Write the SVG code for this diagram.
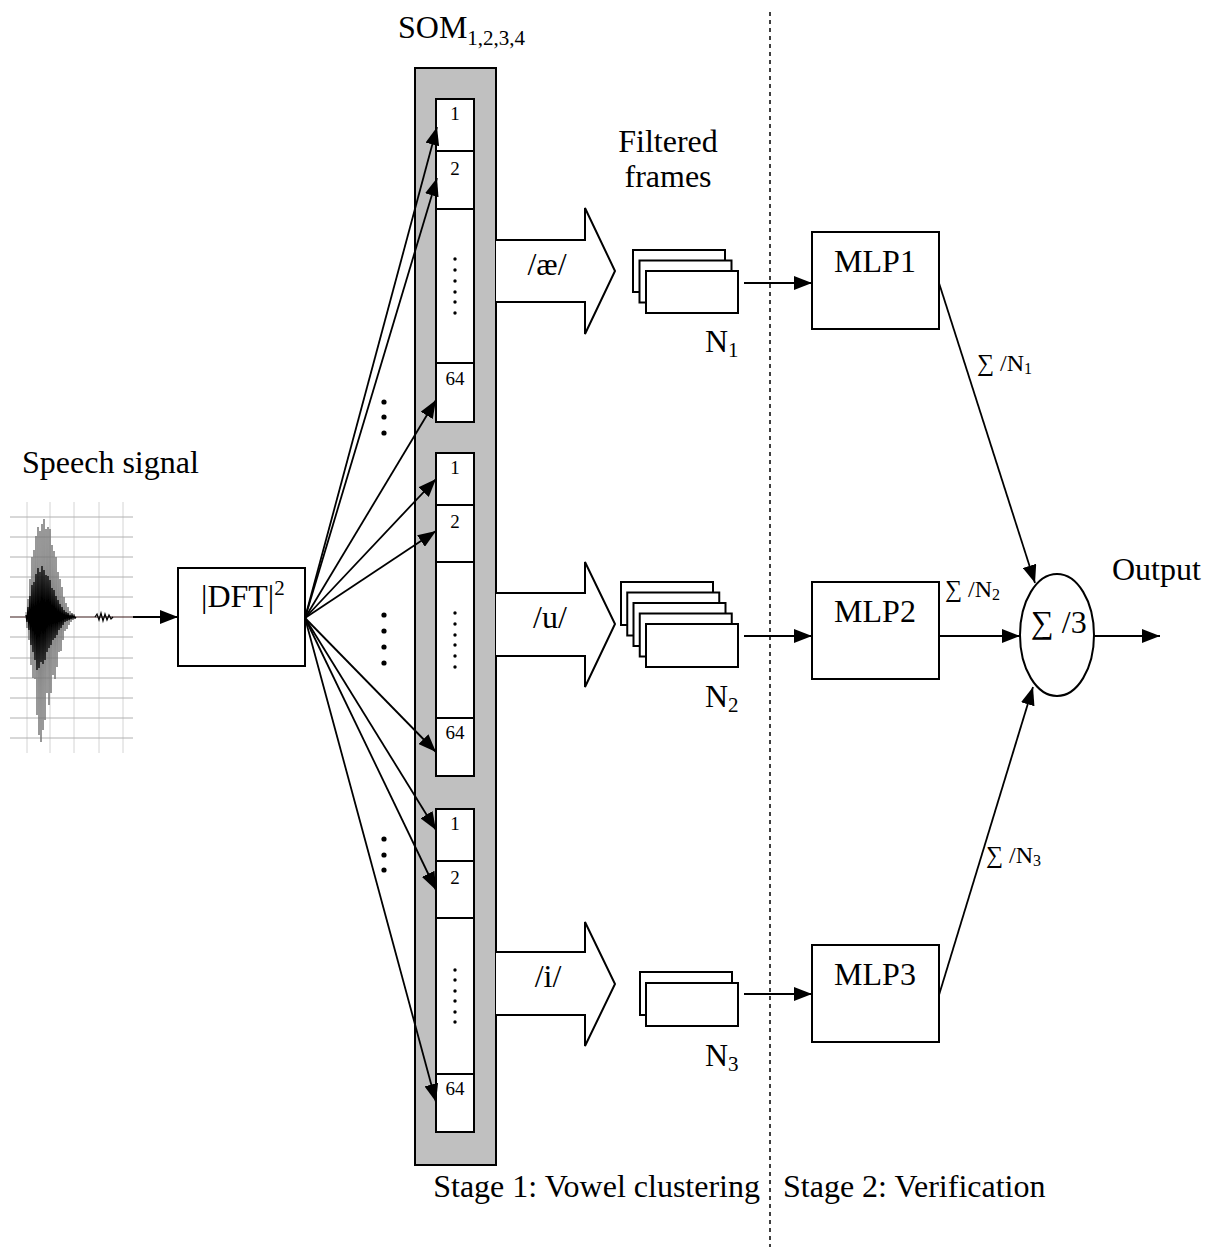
<svg xmlns="http://www.w3.org/2000/svg" width="1217" height="1247" viewBox="0 0 1217 1247">
<style>
text{font-family:"Liberation Serif","Times New Roman",serif;fill:#000}
.t{font-size:32px}
.s{font-size:24px}
.box{fill:#fff;stroke:#000;stroke-width:2}
.ln{stroke:#000;stroke-width:1.8;fill:none}
.grid{stroke:#b0b0b0;stroke-width:1}
.dot{fill:#000}
</style>
<defs>
<marker id="ah" markerUnits="userSpaceOnUse" markerWidth="19" markerHeight="14" refX="18" refY="7" orient="auto">
<path d="M0,0 L18,7 L0,14 Z" fill="#000"/>
</marker>
</defs>
<rect width="1217" height="1247" fill="#fff"/>

<g id="speech-signal">
<text class="t" x="22" y="473">Speech signal</text>
<g class="grid">
<line x1="27" y1="502" x2="27" y2="753" stroke="#d4d4d4"/>
<line x1="50" y1="502" x2="50" y2="753" stroke="#d4d4d4"/>
<line x1="74" y1="502" x2="74" y2="753" stroke="#d4d4d4"/>
<line x1="99" y1="502" x2="99" y2="753" stroke="#d4d4d4"/>
<line x1="123" y1="502" x2="123" y2="753" stroke="#d4d4d4"/>
<line x1="10" y1="517" x2="133" y2="517"/><line x1="10" y1="537" x2="133" y2="537"/>
<line x1="10" y1="557" x2="133" y2="557"/><line x1="10" y1="577" x2="133" y2="577"/>
<line x1="10" y1="597" x2="133" y2="597"/><line x1="10" y1="637" x2="133" y2="637"/>
<line x1="10" y1="658" x2="133" y2="658"/><line x1="10" y1="678" x2="133" y2="678"/>
<line x1="10" y1="698" x2="133" y2="698"/><line x1="10" y1="718" x2="133" y2="718"/>
<line x1="10" y1="738" x2="133" y2="738"/>
</g>
<line x1="10" y1="617" x2="133" y2="617" stroke="#3a1a1a" stroke-width="1.2"/>
<polyline fill="none" stroke="#777" stroke-width="1" points="26,612 27,628 28,599 29,640 30,579 31,665 32,557 33,678 34,550 35,679 36,536 37,715 38,527 39,735 40,531 41,742 42,524 43,730 44,519 45,720 46,529 47,693 48,527 49,705 50,529 51,693 52,545 53,675 54,551 55,679 56,557 57,667 58,572 59,652 60,579 61,651 62,587 63,640 64,597 65,631 66,603 67,629 68,607 69,625 70,611 71,622 72,613 73,620 74,614 75,619 76,617"/>
<polyline fill="none" stroke="#000" stroke-width="1.3" points="26,615 27,622 28,607 29,630 30,596 31,645 32,585 33,652 34,582 35,660 36,574 37,670 38,568 39,668 40,572 41,662 42,566 43,664 44,570 45,660 46,575 47,652 48,576 49,648 50,580 51,645 52,588 53,640 54,590 55,638 56,596 57,635 58,600 59,630 60,604 61,628 62,607 63,625 64,610 65,622 66,612 67,621 68,613 69,620 70,615 71,619 72,615 73,618 74,616 75,618 76,617"/>
<polyline fill="none" stroke="#000" stroke-width="1.2" points="95,617 97,614 99,620 101,613 103,621 105,614 107,620 109,615 111,619 113,617"/>
</g>

<g id="dft">
<rect class="box" x="178" y="568" width="127" height="98"/>
<text class="t" x="201" y="607">|DFT|<tspan font-size="21" dy="-12">2</tspan></text>
</g>

<g id="som">
<text class="t" x="398" y="38">SOM<tspan font-size="21" dy="7">1,2,3,4</tspan></text>
<rect x="415" y="68" width="81" height="1097" fill="#c0c0c0" stroke="#000" stroke-width="2"/>
<g id="som-group1">
<rect class="box" x="436" y="99" width="38" height="52"/>
<rect class="box" x="436" y="151" width="38" height="58"/>
<rect class="box" x="436" y="209" width="38" height="154"/>
<rect class="box" x="436" y="363" width="38" height="59"/>
<text x="455" y="120" font-size="19" text-anchor="middle">1</text>
<text x="455" y="175" font-size="19" text-anchor="middle">2</text>
<text x="455" y="385" font-size="19" text-anchor="middle">64</text>
<g class="dot"><circle cx="455" cy="259" r="1.7"/><circle cx="455" cy="270" r="1.7"/><circle cx="455" cy="281" r="1.7"/><circle cx="455" cy="292" r="1.7"/><circle cx="455" cy="302" r="1.7"/><circle cx="455" cy="313" r="1.7"/></g>
</g>
<g id="som-group2">
<rect class="box" x="436" y="453" width="38" height="52"/>
<rect class="box" x="436" y="505" width="38" height="57"/>
<rect class="box" x="436" y="562" width="38" height="156"/>
<rect class="box" x="436" y="718" width="38" height="58"/>
<text x="455" y="474" font-size="19" text-anchor="middle">1</text>
<text x="455" y="528" font-size="19" text-anchor="middle">2</text>
<text x="455" y="739" font-size="19" text-anchor="middle">64</text>
<g class="dot"><circle cx="455" cy="613" r="1.7"/><circle cx="455" cy="624" r="1.7"/><circle cx="455" cy="635" r="1.7"/><circle cx="455" cy="645" r="1.7"/><circle cx="455" cy="656" r="1.7"/><circle cx="455" cy="667" r="1.7"/></g>
</g>
<g id="som-group3">
<rect class="box" x="436" y="809" width="38" height="52"/>
<rect class="box" x="436" y="861" width="38" height="57"/>
<rect class="box" x="436" y="918" width="38" height="156"/>
<rect class="box" x="436" y="1074" width="38" height="58"/>
<text x="455" y="830" font-size="19" text-anchor="middle">1</text>
<text x="455" y="884" font-size="19" text-anchor="middle">2</text>
<text x="455" y="1095" font-size="19" text-anchor="middle">64</text>
<g class="dot"><circle cx="455" cy="970" r="1.7"/><circle cx="455" cy="980" r="1.7"/><circle cx="455" cy="991" r="1.7"/><circle cx="455" cy="1001" r="1.7"/><circle cx="455" cy="1012" r="1.7"/><circle cx="455" cy="1022" r="1.7"/></g>
</g>
</g>

<g id="fan-dots" class="dot">
<circle cx="384" cy="402" r="2.6"/><circle cx="384" cy="417" r="2.6"/><circle cx="384" cy="433" r="2.6"/>
<circle cx="384" cy="615" r="2.6"/><circle cx="384" cy="631" r="2.6"/><circle cx="384" cy="647" r="2.6"/><circle cx="384" cy="663" r="2.6"/>
<circle cx="384" cy="839" r="2.6"/><circle cx="384" cy="855" r="2.6"/><circle cx="384" cy="870" r="2.6"/>
</g>

<g id="vowel-ae">
<polyline points="496,240 585,240 585,208 615,271 585,334 585,302 496,302" fill="#fff" stroke="#000" stroke-width="2"/>
<text class="t" x="547" y="275" text-anchor="middle">/æ/</text>
</g>
<g id="vowel-u">
<polyline points="496,593 585,593 585,562 615,624 585,687 585,656 496,656" fill="#fff" stroke="#000" stroke-width="2"/>
<text class="t" x="550" y="628" text-anchor="middle">/u/</text>
</g>
<g id="vowel-i">
<polyline points="496,952 585,952 585,922 615,984 585,1046 585,1015 496,1015" fill="#fff" stroke="#000" stroke-width="2"/>
<text class="t" x="548" y="987" text-anchor="middle">/i/</text>
</g>

<g id="filtered-label">
<text class="t" x="668" y="152" text-anchor="middle">Filtered</text>
<text class="t" x="668" y="187" text-anchor="middle">frames</text>
</g>

<g id="frames1">
<rect class="box" x="633" y="250" width="92" height="42"/>
<rect class="box" x="639.5" y="260.5" width="92" height="42"/>
<rect class="box" x="646" y="271" width="92" height="42"/>
<text class="t" x="705" y="352">N<tspan font-size="21" dy="5">1</tspan></text>
</g>
<g id="frames2">
<rect class="box" x="621" y="582" width="92" height="43"/>
<rect class="box" x="627.25" y="592.5" width="92" height="43"/>
<rect class="box" x="633.5" y="603" width="92" height="43"/>
<rect class="box" x="639.75" y="613.5" width="92" height="43"/>
<rect class="box" x="646" y="624" width="92" height="43"/>
<text class="t" x="705" y="707">N<tspan font-size="21" dy="5">2</tspan></text>
</g>
<g id="frames3">
<rect class="box" x="640" y="972" width="92" height="43"/>
<rect class="box" x="646" y="983" width="92" height="43"/>
<text class="t" x="705" y="1066">N<tspan font-size="21" dy="5">3</tspan></text>
</g>

<g id="mlp1">
<rect class="box" x="812" y="232" width="127" height="97"/>
<text class="t" x="875" y="272" text-anchor="middle">MLP1</text>
</g>
<g id="mlp2">
<rect class="box" x="812" y="582" width="127" height="97"/>
<text class="t" x="875" y="622" text-anchor="middle">MLP2</text>
</g>
<g id="mlp3">
<rect class="box" x="812" y="945" width="127" height="97"/>
<text class="t" x="875" y="985" text-anchor="middle">MLP3</text>
</g>

<g id="sum">
<ellipse cx="1057" cy="635" rx="37" ry="61" fill="#fff" stroke="#000" stroke-width="2"/>
<text class="t" x="1031" y="633">∑ /3</text>
</g>

<g id="output-label">
<text class="t" x="1112" y="580">Output</text>
</g>

<g id="connectors">
<line class="ln" x1="133" y1="617" x2="178" y2="617" marker-end="url(#ah)"/>
<line class="ln" x1="305" y1="618" x2="437" y2="127" marker-end="url(#ah)"/>
<line class="ln" x1="305" y1="618" x2="437" y2="178" marker-end="url(#ah)"/>
<line class="ln" x1="305" y1="618" x2="436" y2="400" marker-end="url(#ah)"/>
<line class="ln" x1="305" y1="618" x2="436" y2="479" marker-end="url(#ah)"/>
<line class="ln" x1="305" y1="618" x2="436" y2="531" marker-end="url(#ah)"/>
<line class="ln" x1="305" y1="618" x2="436" y2="752" marker-end="url(#ah)"/>
<line class="ln" x1="305" y1="618" x2="436" y2="830" marker-end="url(#ah)"/>
<line class="ln" x1="305" y1="618" x2="436" y2="890" marker-end="url(#ah)"/>
<line class="ln" x1="305" y1="618" x2="436" y2="1102" marker-end="url(#ah)"/>
<line class="ln" x1="744" y1="283" x2="812" y2="283" marker-end="url(#ah)"/>
<line class="ln" x1="744" y1="636" x2="812" y2="636" marker-end="url(#ah)"/>
<line class="ln" x1="744" y1="994" x2="812" y2="994" marker-end="url(#ah)"/>
<line class="ln" x1="939" y1="283" x2="1035" y2="583" marker-end="url(#ah)"/>
<line class="ln" x1="939" y1="636" x2="1020" y2="636" marker-end="url(#ah)"/>
<line class="ln" x1="939" y1="995" x2="1033" y2="687" marker-end="url(#ah)"/>
<line class="ln" x1="1094" y1="636" x2="1160" y2="636" marker-end="url(#ah)"/>
<line x1="770" y1="12" x2="770" y2="1247" stroke="#000" stroke-width="1.5" stroke-dasharray="4 4"/>
</g>

<g id="connector-labels">
<text class="s" x="977" y="371">∑ /N<tspan font-size="16" dy="3">1</tspan></text>
<text class="s" x="945" y="597">∑ /N<tspan font-size="16" dy="3">2</tspan></text>
<text class="s" x="986" y="863">∑ /N<tspan font-size="16" dy="3">3</tspan></text>
</g>

<g id="stage-labels">
<text class="t" x="760" y="1197" text-anchor="end">Stage 1: Vowel clustering</text>
<text class="t" x="783" y="1197">Stage 2: Verification</text>
</g>
</svg>
